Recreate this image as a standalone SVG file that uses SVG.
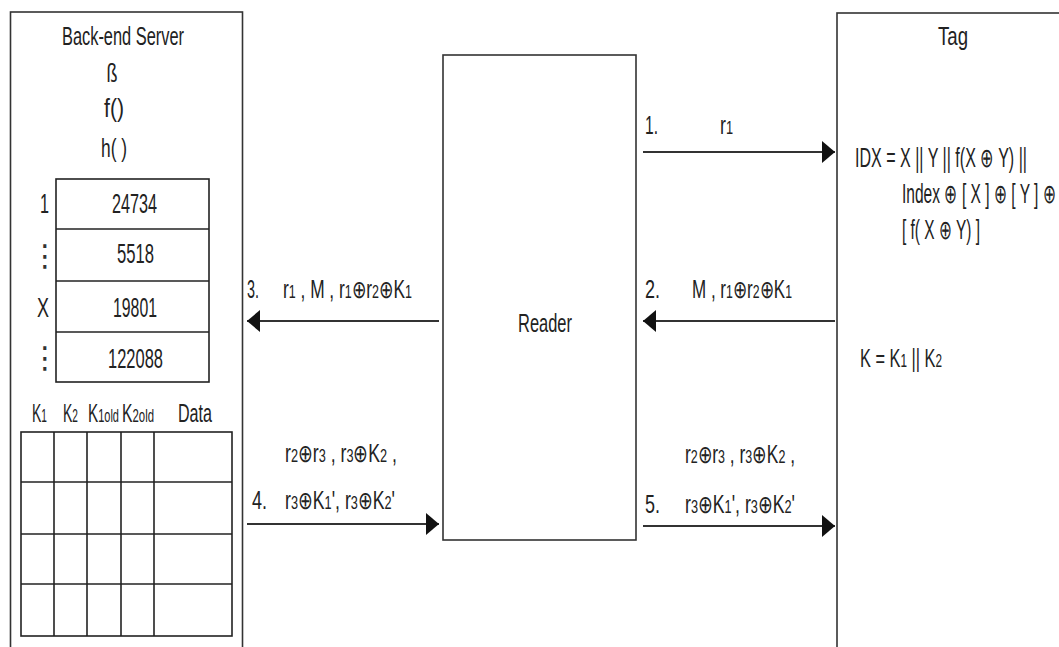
<svg xmlns="http://www.w3.org/2000/svg" width="1059" height="647" viewBox="0 0 1059 647">
<style>
.t{font-family:"Liberation Sans",Arial,sans-serif;font-size:25px;fill:#222}
.b{font-size:27px}
.s{font-size:18px}
.box{fill:#fff;stroke:#333;stroke-width:1.6}
.grid{fill:none;stroke:#222;stroke-width:1.6}
.cn{stroke:#333;stroke-width:2;fill:none}
.el{font-family:"DejaVu Sans",sans-serif;font-size:30px;fill:#333}
</style>
<defs>
<marker id="ah" markerUnits="userSpaceOnUse" markerWidth="14" markerHeight="22" viewBox="0 0 13 22" refX="13" refY="11" orient="auto">
<path d="M0,0 L13,11 L0,22 Z" fill="#111"/>
</marker>
</defs>
<rect width="1059" height="647" fill="#fff"/>

<g id="server">
<rect class="box" x="10.5" y="12" width="232" height="700"/>
<text class="t" x="62" y="45" textLength="122" lengthAdjust="spacingAndGlyphs">Back-end Server</text>
<text class="t" x="112" y="82" text-anchor="middle" textLength="11" lengthAdjust="spacingAndGlyphs">ß</text>
<text class="t" x="114" y="117" text-anchor="middle" textLength="20" lengthAdjust="spacingAndGlyphs">f()</text>
<text class="t" x="114" y="157" text-anchor="middle" textLength="26" lengthAdjust="spacingAndGlyphs">h( )</text>
<g id="index-table">
<rect class="grid" x="56" y="179" width="153" height="203"/>
<line class="grid" x1="56" y1="229" x2="209" y2="229"/>
<line class="grid" x1="56" y1="281" x2="209" y2="281"/>
<line class="grid" x1="56" y1="332" x2="209" y2="332"/>
<text class="t b" x="40" y="213" textLength="9" lengthAdjust="spacingAndGlyphs">1</text>
<text class="el" x="45" y="266" text-anchor="middle">⋮</text>
<text class="t b" x="37" y="317" textLength="12" lengthAdjust="spacingAndGlyphs">X</text>
<text class="el" x="45" y="368" text-anchor="middle">⋮</text>
<text class="t b" x="112" y="213" textLength="45" lengthAdjust="spacingAndGlyphs">24734</text>
<text class="t b" x="117" y="263" textLength="37" lengthAdjust="spacingAndGlyphs">5518</text>
<text class="t b" x="113" y="317" textLength="44" lengthAdjust="spacingAndGlyphs">19801</text>
<text class="t b" x="108" y="368" textLength="55" lengthAdjust="spacingAndGlyphs">122088</text>
</g>
<g id="data-table">
<text class="t" x="32" y="422" textLength="15" lengthAdjust="spacingAndGlyphs">K<tspan class="s">1</tspan></text>
<text class="t" x="63" y="422" textLength="15" lengthAdjust="spacingAndGlyphs">K<tspan class="s">2</tspan></text>
<text class="t" x="88" y="422" textLength="31" lengthAdjust="spacingAndGlyphs">K<tspan class="s">1old</tspan></text>
<text class="t" x="122" y="422" textLength="32" lengthAdjust="spacingAndGlyphs">K<tspan class="s">2old</tspan></text>
<text class="t" x="178" y="422" textLength="34" lengthAdjust="spacingAndGlyphs">Data</text>
<rect class="grid" x="21" y="432" width="211" height="204"/>
<line class="grid" x1="21" y1="482" x2="232" y2="482"/>
<line class="grid" x1="21" y1="534" x2="232" y2="534"/>
<line class="grid" x1="21" y1="584" x2="232" y2="584"/>
<line class="grid" x1="54" y1="432" x2="54" y2="636"/>
<line class="grid" x1="87" y1="432" x2="87" y2="636"/>
<line class="grid" x1="121" y1="432" x2="121" y2="636"/>
<line class="grid" x1="154" y1="432" x2="154" y2="636"/>
</g>
</g>

<g id="reader">
<rect class="box" x="443" y="55" width="193" height="485"/>
<text class="t" x="545" y="332" text-anchor="middle" textLength="54" lengthAdjust="spacingAndGlyphs">Reader</text>
</g>

<g id="tag">
<rect class="box" x="837" y="13" width="300" height="700"/>
<text class="t" x="953" y="45" text-anchor="middle" textLength="30" lengthAdjust="spacingAndGlyphs">Tag</text>
<text class="t b" x="855" y="167" textLength="172" lengthAdjust="spacingAndGlyphs">IDX = X || Y || f(X ⊕ Y) ||</text>
<text class="t b" x="902" y="203" textLength="154" lengthAdjust="spacingAndGlyphs">Index ⊕ [ X ] ⊕ [ Y ] ⊕</text>
<text class="t b" x="902" y="239" textLength="78" lengthAdjust="spacingAndGlyphs">[ f( X ⊕ Y) ]</text>
<text class="t" x="860" y="367" textLength="82" lengthAdjust="spacingAndGlyphs">K = K<tspan class="s">1</tspan> || K<tspan class="s">2</tspan></text>
</g>

<g id="connectors">
<line class="cn" x1="643" y1="152" x2="835" y2="152" marker-end="url(#ah)"/>
<line class="cn" x1="835" y1="321" x2="643" y2="321" marker-end="url(#ah)"/>
<line class="cn" x1="439" y1="321" x2="247" y2="321" marker-end="url(#ah)"/>
<line class="cn" x1="247" y1="524" x2="439" y2="524" marker-end="url(#ah)"/>
<line class="cn" x1="643" y1="526" x2="835" y2="526" marker-end="url(#ah)"/>
<text class="t" x="645" y="134" textLength="13" lengthAdjust="spacingAndGlyphs">1.</text>
<text class="t" x="720" y="134" textLength="13" lengthAdjust="spacingAndGlyphs">r<tspan class="s">1</tspan></text>
<text class="t" x="645" y="298" textLength="15" lengthAdjust="spacingAndGlyphs">2.</text>
<text class="t" x="692" y="298" textLength="100" lengthAdjust="spacingAndGlyphs">M , r<tspan class="s">1</tspan>⊕r<tspan class="s">2</tspan>⊕K<tspan class="s">1</tspan></text>
<text class="t" x="247" y="298" textLength="12" lengthAdjust="spacingAndGlyphs">3.</text>
<text class="t" x="283" y="298" textLength="129" lengthAdjust="spacingAndGlyphs">r<tspan class="s">1</tspan> , M , r<tspan class="s">1</tspan>⊕r<tspan class="s">2</tspan>⊕K<tspan class="s">1</tspan></text>
<text class="t" x="285" y="462" textLength="112" lengthAdjust="spacingAndGlyphs">r<tspan class="s">2</tspan>⊕r<tspan class="s">3</tspan> , r<tspan class="s">3</tspan>⊕K<tspan class="s">2</tspan> ,</text>
<text class="t" x="252" y="509" textLength="15" lengthAdjust="spacingAndGlyphs">4.</text>
<text class="t" x="285" y="509" textLength="110" lengthAdjust="spacingAndGlyphs">r<tspan class="s">3</tspan>⊕K<tspan class="s">1</tspan>', r<tspan class="s">3</tspan>⊕K<tspan class="s">2</tspan>'</text>
<text class="t" x="685" y="463" textLength="110" lengthAdjust="spacingAndGlyphs">r<tspan class="s">2</tspan>⊕r<tspan class="s">3</tspan> , r<tspan class="s">3</tspan>⊕K<tspan class="s">2</tspan> ,</text>
<text class="t" x="645" y="513" textLength="15" lengthAdjust="spacingAndGlyphs">5.</text>
<text class="t" x="685" y="513" textLength="110" lengthAdjust="spacingAndGlyphs">r<tspan class="s">3</tspan>⊕K<tspan class="s">1</tspan>', r<tspan class="s">3</tspan>⊕K<tspan class="s">2</tspan>'</text>
</g>
</svg>
